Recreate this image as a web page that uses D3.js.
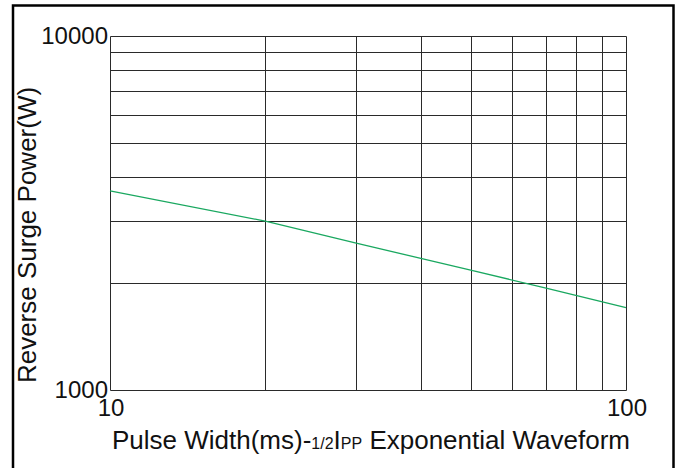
<!DOCTYPE html>
<html>
<head>
<meta charset="utf-8">
<script src="https://cdn.jsdelivr.net/npm/d3@7"></script>
<style>
  body { margin: 0; background: #fff; }
  text { font-family: "Liberation Sans", Arial, sans-serif; fill: #111; }
</style>
</head>
<body>
<div id="chart"></div>
<script>
// pulse width (ms) vs reverse surge power (W)
const pulseWidth = [10, 20, 30, 50, 70, 100];
const surgePower = [3650, 3000, 2600, 2180, 1940, 1710];
const xGrid = [10, 20, 30, 40, 50, 60, 70, 80, 90, 100];
const yGrid = [1000, 2000, 3000, 4000, 5000, 6000, 7000, 8000, 9000, 10000];
const xTickLabels = [10, 100];
const yTickLabels = [1000, 10000];

const width = 680,
    height = 468,
    margin = { top: 36, right: 54, bottom: 78, left: 110 };

const svg = d3.select("#chart")
    .append("svg")
    .attr("width", width)
    .attr("height", height);

// outer frame
svg.append("rect")
    .attr("x", 13)
    .attr("y", 5.5)
    .attr("width", 660.5)
    .attr("height", 470)
    .attr("fill", "none")
    .attr("stroke", "#000")
    .attr("stroke-width", 2.5);

const x = d3.scaleLog()
    .domain([10, 100])
    .range([margin.left, width - margin.right]);

const y = d3.scaleLog()
    .domain([1000, 10000])
    .range([height - margin.bottom, margin.top]);

const px = (v) => Math.round(x(v)) + 0.5;
const py = (v) => Math.round(y(v)) + 0.5;

// grid
const grid = svg.append("g")
    .attr("stroke", "#2a2a2a")
    .attr("stroke-width", 1);

grid.selectAll("line.v")
    .data(xGrid)
    .join("line")
    .attr("class", "v")
    .attr("x1", (d) => px(d))
    .attr("x2", (d) => px(d))
    .attr("y1", py(10000))
    .attr("y2", py(1000));

grid.selectAll("line.h")
    .data(yGrid)
    .join("line")
    .attr("class", "h")
    .attr("x1", px(10))
    .attr("x2", px(100))
    .attr("y1", (d) => py(d))
    .attr("y2", (d) => py(d));

// curve
const line = d3.line()
    .x((d, i) => x(pulseWidth[i]))
    .y((d) => y(d));

svg.append("path")
    .datum(surgePower)
    .attr("d", line)
    .attr("fill", "none")
    .attr("stroke", "#1aa860")
    .attr("stroke-width", 1.3);

// tick labels
svg.selectAll("text.ytick")
    .data(yTickLabels)
    .join("text")
    .attr("class", "ytick")
    .attr("x", margin.left - 2)
    .attr("y", (d) => y(d) + 8)
    .attr("text-anchor", "end")
    .style("font-size", "24px")
    .text((d) => d);

svg.selectAll("text.xtick")
    .data(xTickLabels)
    .join("text")
    .attr("class", "xtick")
    .attr("x", (d) => x(d) + 1)
    .attr("y", height - margin.bottom + 26)
    .attr("text-anchor", "middle")
    .style("font-size", "24px")
    .text((d) => d);

// axis titles
const xt = svg.append("text")
    .attr("x", 371)
    .attr("y", 449)
    .attr("text-anchor", "middle")
    .style("font-size", "26px");
xt.append("tspan").text("Pulse Width(ms)-");
xt.append("tspan").style("font-size", "16px").text("1/2");
xt.append("tspan").text("I");
xt.append("tspan").style("font-size", "16px").text("PP");
xt.append("tspan").text(" Exponential Waveform");

svg.append("text")
    .attr("transform", "translate(36," + 235 + ") rotate(-90)")
    .attr("text-anchor", "middle")
    .style("font-size", "26px")
    .text("Reverse Surge Power(W)");
</script>
</body>
</html>
